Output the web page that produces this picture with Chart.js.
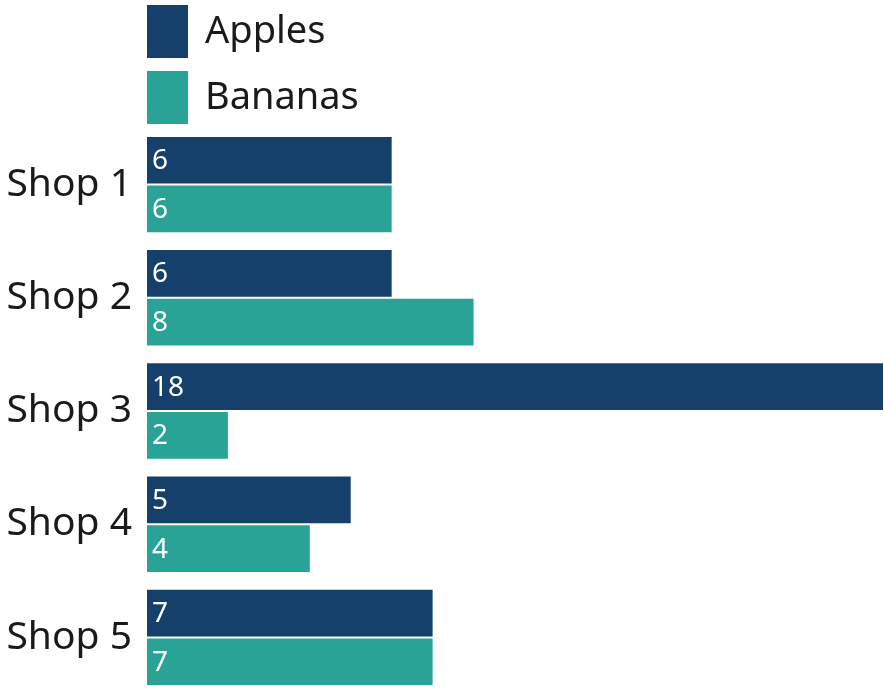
<!DOCTYPE html>
<html>
<head>
<meta charset="utf-8">
<script src="https://cdn.jsdelivr.net/npm/chart.js@4/dist/chart.umd.min.js"></script>
<style>
    html, body { margin: 0; padding: 0; background: #fff; overflow: hidden; }
    #wrap { width: 884px; height: 694px; position: relative; }
</style>
</head>
<body>
<div id="wrap"><canvas id="shopChart"></canvas></div>
<script>
// Chart data
const shops = ['Shop 1', 'Shop 2', 'Shop 3', 'Shop 4', 'Shop 5'];
const apples = [6, 6, 18, 5, 7];
const bananas = [6, 8, 2, 4, 7];
const seriesNames = ['Apples', 'Bananas'];
const seriesColors = ['#15406B', '#29A396'];

const FONT = '"Noto Sans", "Open Sans", sans-serif';

// Legend drawn as a stacked list above the plot
const stackedLegend = {
    id: 'stackedLegend',
    afterDraw(chart) {
        const ctx = chart.ctx;
        const left = chart.chartArea.left;
        ctx.save();
        ctx.font = '38px ' + FONT;
        ctx.textBaseline = 'middle';
        ctx.textAlign = 'left';
        chart.data.datasets.forEach((ds, i) => {
            const top = 5 + i * 66;
            ctx.fillStyle = ds.backgroundColor;
            ctx.fillRect(left, top, 41, 53);
            ctx.fillStyle = '#1a1a1a';
            ctx.fillText(ds.label, left + 58, top + 27);
        });
        ctx.restore();
    }
};

// Value labels at the start of every bar
const barLabels = {
    id: 'barLabels',
    afterDatasetsDraw(chart) {
        const ctx = chart.ctx;
        ctx.save();
        ctx.font = '28px ' + FONT;
        ctx.fillStyle = '#fff';
        ctx.textBaseline = 'middle';
        ctx.textAlign = 'left';
        chart.data.datasets.forEach((ds, i) => {
            const meta = chart.getDatasetMeta(i);
            meta.data.forEach((bar, j) => {
                ctx.fillText(String(ds.data[j]), bar.base + 5, bar.y + 1);
            });
        });
        ctx.restore();
    }
};

const ctx = document.getElementById('shopChart').getContext('2d');
const shopChart = new Chart(ctx, {
    type: 'bar',
    data: {
        labels: shops,
        datasets: [{
            label: seriesNames[0],
            data: apples,
            backgroundColor: seriesColors[0],
            borderColor: 'rgba(255,255,255,0.6)',
            borderWidth: 1
        }, {
            label: seriesNames[1],
            data: bananas,
            backgroundColor: seriesColors[1],
            borderColor: 'rgba(255,255,255,0.6)',
            borderWidth: 1
        }]
    },
    options: {
        indexAxis: 'y',
        responsive: true,
        maintainAspectRatio: false,
        animation: false,
        categoryPercentage: 0.86,
        barPercentage: 1.0,
        layout: { padding: { top: 128, right: 0, bottom: 0, left: 0 } },
        plugins: {
            legend: { display: false },
            tooltip: { enabled: false }
        },
        scales: {
            x: {
                display: false,
                min: 0,
                max: 18
            },
            y: {
                grid: { display: false, drawTicks: false },
                border: { display: false },
                ticks: {
                    color: '#1a1a1a',
                    padding: 15,
                    font: { family: FONT, size: 39 }
                },
                afterFit(scale) {
                    scale.width = 147;
                    scale.paddingTop = 0;
                    scale.paddingBottom = 0;
                }
            }
        }
    },
    plugins: [stackedLegend, barLabels]
});
</script>
</body>
</html>
